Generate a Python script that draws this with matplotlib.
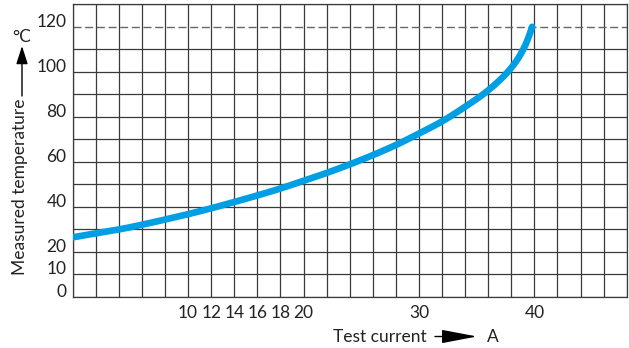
import numpy as np
import matplotlib
matplotlib.use("Agg")
import matplotlib.pyplot as plt

# curve: test current (A) vs measured temperature (degC)
current = [0, 2, 4, 6, 8, 10, 12, 14, 16, 18, 20, 22, 24, 26, 28, 30,
           32, 34, 36, 38, 39, 39.8]
temperature = [26.5, 28.3, 30.0, 32.1, 34.4, 36.8, 39.4, 42.2, 45.1, 48.2,
               51.6, 55.1, 58.9, 63.0, 67.5, 72.6, 78.0, 84.5, 91.8, 101.8,
               109.6, 120.0]

x_grid = list(range(0, 49, 2))
x_labels = {10: "10", 12: "12", 14: "14", 16: "16", 18: "18", 20: "20", 30: "30", 40: "40"}
y_grid = list(range(0, 131, 10))
y_labels = {0: "0", 10: "10", 20: "20", 40: "40", 60: "60", 80: "80", 100: "100", 120: "120"}
limit_temp = 120


def pchip(x, y, xn):
    # monotone cubic hermite (Fritsch-Carlson), no scipy needed
    x = np.asarray(x, float)
    y = np.asarray(y, float)
    h = np.diff(x)
    d = np.diff(y) / h
    m = np.zeros_like(y)
    for i in range(1, len(x) - 1):
        if d[i - 1] * d[i] > 0:
            w1 = 2 * h[i] + h[i - 1]
            w2 = h[i] + 2 * h[i - 1]
            m[i] = (w1 + w2) / (w1 / d[i - 1] + w2 / d[i])
    m[0] = d[0]
    m[-1] = d[-1] * 1.3
    idx = np.clip(np.searchsorted(x, xn) - 1, 0, len(h) - 1)
    t = (xn - x[idx]) / h[idx]
    h00 = 2 * t**3 - 3 * t**2 + 1
    h10 = t**3 - 2 * t**2 + t
    h01 = -2 * t**3 + 3 * t**2
    h11 = t**3 - t**2
    return h00 * y[idx] + h10 * h[idx] * m[idx] + h01 * y[idx + 1] + h11 * h[idx] * m[idx + 1]


plt.rcParams['font.family'] = ['Lato', 'DejaVu Sans']
FS = 12.5
W, H = 629, 348

fig = plt.figure(figsize=(W / 100, H / 100), dpi=100)
ax = fig.add_axes([72.7 / W, 1 - 297 / H, 554 / W, 292.7 / H])

grid_c = '#3a3a3a'
for x in x_grid:
    ax.axvline(x, color=grid_c, lw=0.9, zorder=1)
for y in y_grid:
    if y == limit_temp:
        ax.axhline(y, color='#666666', lw=1.0, dashes=(5.8, 2.6), zorder=1)
    else:
        ax.axhline(y, color=grid_c, lw=0.9, zorder=1)

xs = np.linspace(current[0], current[-1], 400)
ax.plot(xs, pchip(current, temperature, xs), color='#009FE3', lw=4.8,
        solid_capstyle='round', zorder=3)

ax.set_xlim(0, 48)
ax.set_ylim(0, 130)
for s in ax.spines.values():
    s.set_color(grid_c)
    s.set_linewidth(0.9)

ax.set_xticks(x_grid)
ax.set_xticklabels([x_labels.get(x, "") for x in x_grid], fontsize=FS, color='#222222')
ax.set_yticks(y_grid)
ax.set_yticklabels([y_labels.get(y, "") for y in y_grid], fontsize=FS, color='#222222')
ax.tick_params(axis='both', length=0)
ax.tick_params(axis='x', pad=6)
ax.tick_params(axis='y', pad=4.5)
for lbl in ax.get_yticklabels():
    lbl.set_verticalalignment('baseline')

# y axis label with arrow and unit
fig.text(20 / W, 1 - 187 / H, "Measured temperature", rotation=90,
         ha='center', va='center', fontsize=FS, color='#222222')
ax.annotate('', xy=(22, H - 46), xytext=(22, H - 96), xycoords='figure pixels',
            arrowprops=dict(arrowstyle='-|>,head_length=1.0,head_width=0.32',
                            mutation_scale=11, color='black', lw=1.0,
                            shrinkA=0, shrinkB=0))
fig.text(22 / W, 1 - 37.5 / H, "°C", ha='center', va='center', fontsize=FS, color='#222222')

# x axis label with arrow and unit
fig.text(333 / W, 6.3 / H, "Test current", ha='left', va='baseline', fontsize=FS, color='#222222')
ax.annotate('', xy=(477, 11.5), xytext=(435, 11.5), xycoords='figure pixels',
            arrowprops=dict(arrowstyle='-|>,head_length=2.0,head_width=0.38',
                            mutation_scale=11, color='black', lw=1.0,
                            shrinkA=0, shrinkB=0))
fig.text(487 / W, 6.3 / H, "A", ha='left', va='baseline', fontsize=FS, color='#222222')

fig.savefig("out.png", dpi=100)
